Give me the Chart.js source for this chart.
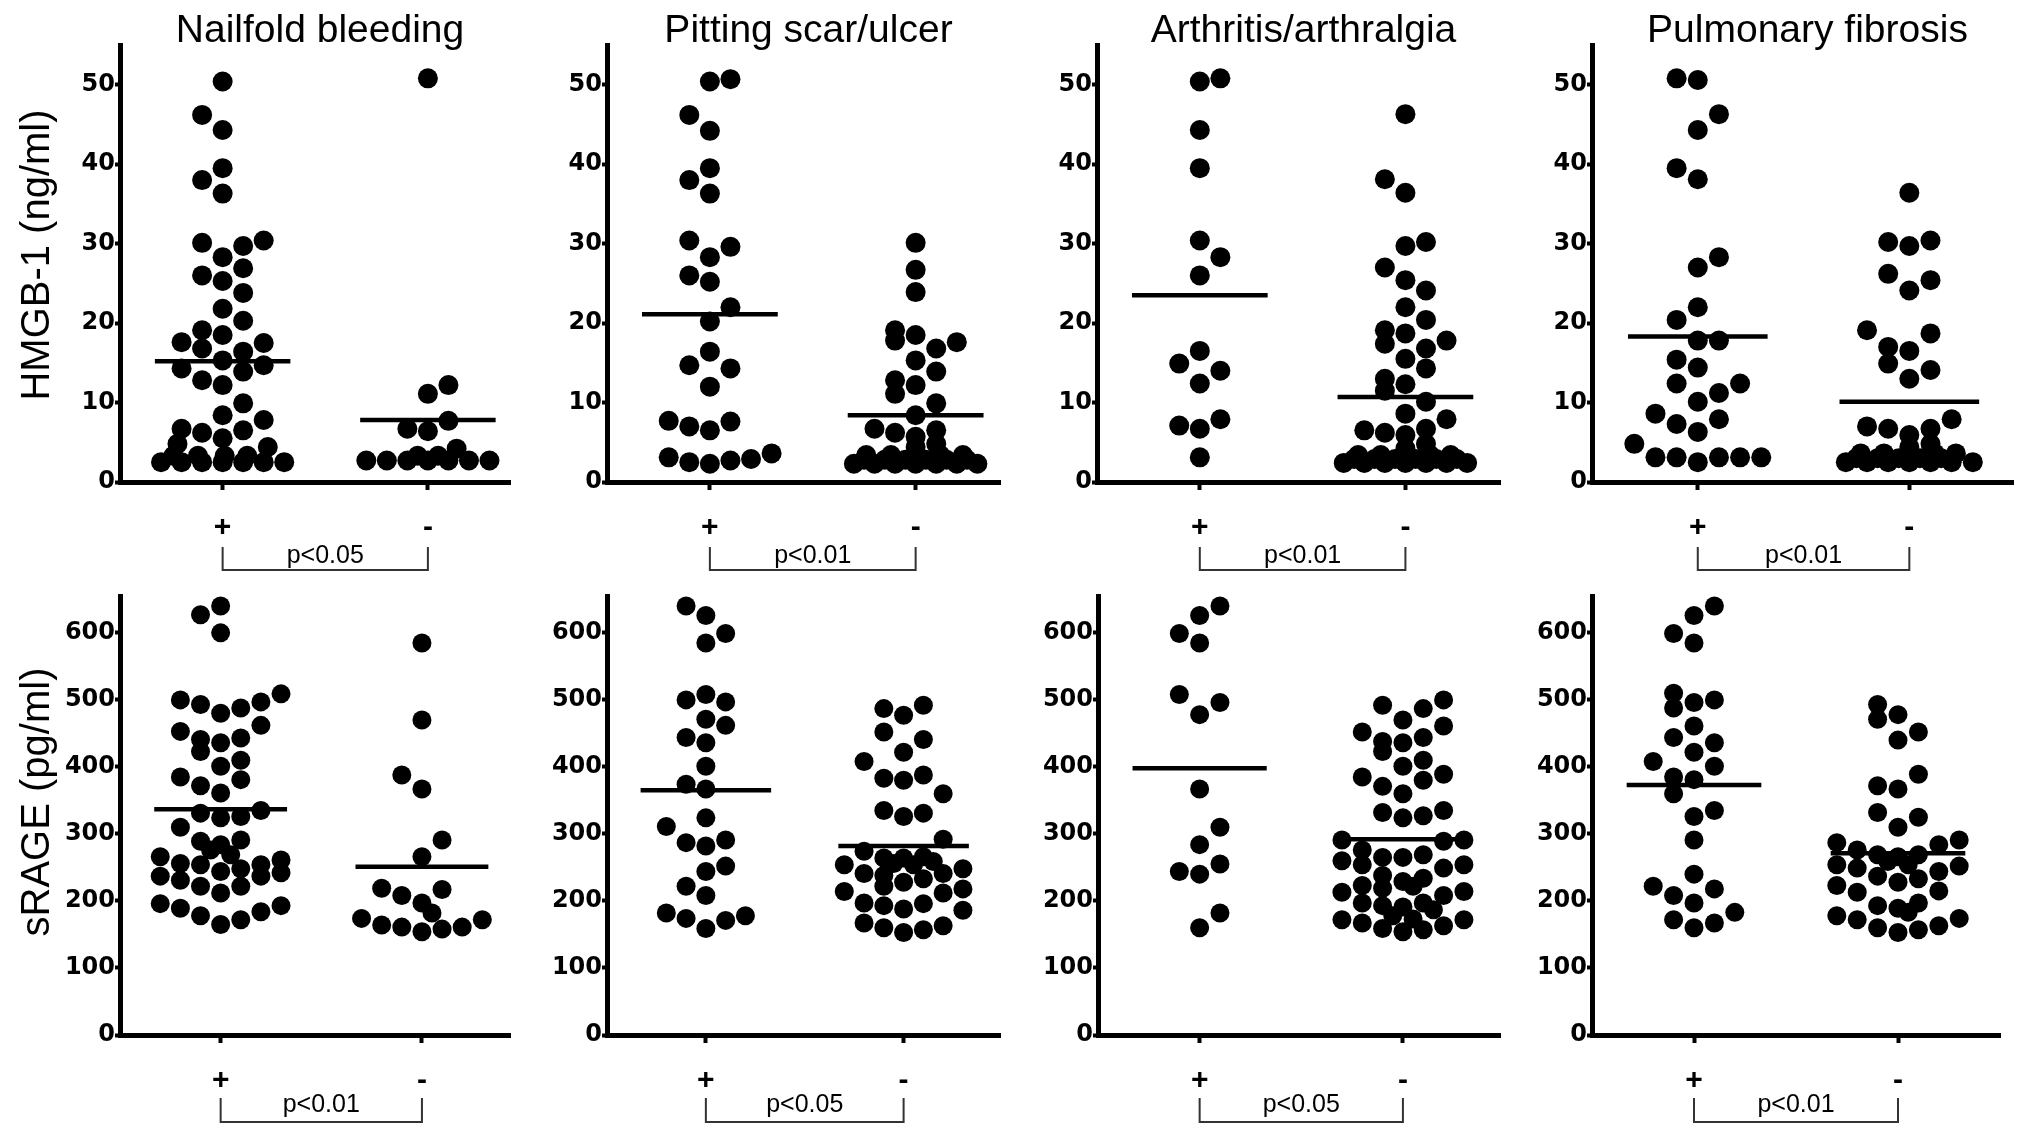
<!DOCTYPE html>
<html>
<head>
<meta charset="utf-8">
<title>HMGB-1 and sRAGE by clinical finding</title>
<script src="https://cdn.jsdelivr.net/npm/chart.js@4.4.1/dist/chart.umd.min.js"></script>
<style>
    body { margin: 0; background: #fff; }
    #wrap { position: relative; width: 2024px; height: 1126px; overflow: hidden; background: #fff; }
    #wrap canvas { position: absolute; }
</style>
</head>
<body>
<div id="wrap"></div>
<script>
// panel titles, group labels, tick labels, p values
const findings = ['Nailfold bleeding', 'Pitting scar/ulcer', 'Arthritis/arthralgia', 'Pulmonary fibrosis']
const groupLabels = ['+', '-']
const hmgbTicks = [0, 10, 20, 30, 40, 50]
const srageTicks = [0, 100, 200, 300, 400, 500, 600]
const hmgbPValues = ['p<0.05', 'p<0.01', 'p<0.01', 'p<0.01']
const sragePValues = ['p<0.01', 'p<0.05', 'p<0.05', 'p<0.01']

// group mean lines [+, -]
const hmgbMeans = [[15.2, 7.8], [21.1, 8.4], [23.5, 10.7], [18.3, 10.1]]
const srageMeans = [[337, 251], [365, 282], [398, 292], [373, 271]]

// HMGB-1 (ng/ml); *Col = column of the dot in the scatter (0 = centre)
const nailfoldHmgbPlus = [50.4, 46.2, 44.3, 39.5, 38.0, 36.3, 30.1, 29.7, 30.4, 28.3, 26.9, 26.0, 25.3, 23.8, 21.8, 20.3, 19.1, 18.5, 17.6, 17.5, 16.8, 16.4, 15.3, 14.3, 14.7, 13.9, 12.8, 12.2, 9.9, 8.4, 7.8, 6.7, 6.2, 6.5, 5.5, 4.8, 4.4, 2.5, 2.5, 2.5, 2.5, 2.5, 2.5, 2.5, 3.3, 3.3, 3.3, 3.3]
const nailfoldHmgbPlusCol = [0, -1, 0, 0, -1, 0, -1, 1, 2, 0, 1, -1, 0, 1, 0, 1, -1, 0, -2, 2, -1, 1, 0, -2, 2, 1, -1, 0, 1, 0, 2, -2, -1, 1, 0, -2.2, 2.2, -3, -2, -1, 0, 1, 2, 3, -2.4, -1.2, 0.1, 1.2]
const nailfoldHmgbMinus = [50.8, 12.2, 11.1, 7.7, 6.7, 6.4, 4.2, 2.7, 2.7, 2.7, 2.7, 2.7, 2.7, 2.7, 3.3, 3.3]
const nailfoldHmgbMinusCol = [0, 1, 0, 1, -1, 0, 1.4, -3, -2, -1, 0, 1, 2, 3, -0.5, 0.5]

const pittingHmgbPlus = [50.4, 50.7, 46.2, 44.2, 39.5, 38.0, 36.3, 30.4, 29.6, 28.3, 26.0, 25.2, 22.0, 20.2, 16.4, 14.7, 14.3, 12.0, 7.7, 7.0, 6.5, 7.6, 3.1, 2.5, 2.3, 2.7, 2.9, 3.6]
const pittingHmgbPlusCol = [0, 1, -1, 0, 0, -1, 0, -1, 1, 0, -1, 0, 1, 0, 0, -1, 1, 0, -2, -1, 0, 1, -2, -1, 0, 1, 2, 3]
const pittingHmgbMinus = [30.1, 26.7, 23.9, 19.1, 17.8, 18.5, 17.6, 16.8, 15.3, 13.9, 12.8, 11.1, 12.2, 9.9, 8.4, 6.7, 6.2, 6.5, 5.7, 4.8, 4.4, 2.3, 2.3, 2.3, 2.3, 2.3, 2.3, 2.3, 3.4, 3.4, 3.4, 3.4, 3.4, 2.8, 2.8, 2.8, 2.8, 2.8, 2.8]
const pittingHmgbMinusCol = [0, 0, 0, -1, -1, 0, 2, 1, 0, 1, -1, -1, 0, 1, 0, -2, -1, 1, 0, 1, 0, -3, -2, -1, 0, 1, 2, 3, -2.4, -1.2, 0, 1.2, 2.3, -2.5, -1.5, -0.5, 0.5, 1.5, 2.5]

const arthritisHmgbPlus = [50.4, 50.8, 44.3, 39.5, 30.4, 28.3, 26.0, 16.5, 14.9, 14.0, 12.4, 7.1, 6.7, 7.9, 3.1]
const arthritisHmgbPlusCol = [0, 1, 0, 0, 0, 1, 0, 0, -1, 1, 0, -1, 0, 1, 0]
const arthritisHmgbMinus = [46.3, 38.1, 36.4, 29.7, 30.2, 27.0, 25.4, 24.1, 22.0, 20.4, 19.1, 17.4, 18.7, 17.8, 16.8, 15.5, 14.3, 13.0, 12.3, 11.5, 10.1, 8.6, 7.9, 6.5, 6.2, 6.7, 5.9, 4.8, 4.2, 2.4, 2.4, 2.4, 2.4, 2.4, 2.4, 2.4, 3.4, 3.4, 3.4, 3.4, 3.4, 2.9, 2.9, 2.9, 2.9, 2.9, 2.9]
const arthritisHmgbMinusCol = [0, -1, 0, 0, 1, -1, 0, 1, 0, 1, -1, -1, 0, 2, 1, 0, 1, -1, 0, -1, 1, 0, 2, -2, -1, 1, 0, 1, 0, -3, -2, -1, 0, 1, 2, 3, -2.3, -1.2, 0, 1.2, 2.2, -2.5, -1.5, -0.5, 0.5, 1.5, 2.5]

const fibrosisHmgbPlus = [50.8, 50.6, 46.3, 44.3, 39.5, 38.1, 28.3, 27.0, 22.0, 20.4, 17.8, 17.8, 15.4, 14.4, 12.4, 12.4, 11.2, 10.1, 8.6, 7.9, 7.3, 6.3, 4.8, 3.1, 3.1, 3.1, 3.1, 3.1, 2.5]
const fibrosisHmgbPlusCol = [-1, 0, 1, 0, -1, 0, 1, 0, 0, -1, 0, 1, -1, 0, -1, 2, 1, 0, -2, 1, -1, 0, -3, -2, -1, 1, 2, 3, 0]
const fibrosisHmgbMinus = [36.4, 30.2, 29.7, 30.4, 26.2, 25.4, 24.1, 19.1, 18.7, 17.0, 16.5, 14.9, 14.1, 13.0, 7.0, 6.7, 6.7, 7.9, 5.9, 4.8, 4.4, 2.5, 2.5, 2.5, 2.5, 2.5, 2.5, 2.5, 3.6, 3.6, 3.6, 3.6, 3.0, 3.0, 3.0, 3.0, 3.0]
const fibrosisHmgbMinusCol = [0, -1, 0, 1, -1, 1, 0, -2, 1, -1, 0, -1, 1, 0, -2, -1, 1, 2, 0, 1, 0, -3, -2, -1, 0, 1, 2, 3, -2.3, -1.2, 1.2, 2.2, -2.5, -1.5, -0.5, 0.5, 1.5]

// sRAGE (pg/ml)
const nailfoldSragePlus = [640, 627, 600, 500, 493, 480, 488, 497, 509, 453, 462, 441, 436, 443, 423, 410, 401, 385, 381, 372, 361, 335, 331, 324, 326, 310, 289, 291, 284, 276, 269, 266, 256, 254, 244, 248, 254, 261, 237, 237, 242, 231, 222, 222, 212, 196, 189, 193, 184, 178, 172, 165]
const nailfoldSragePlusCol = [0, -1, 0, -2, -1, 0, 1, 2, 3, -2, 2, -1, 0, 1, -1, 1, 0, -2, 1, -1, 0, 2, -1, 0, 1, -2, -1, 1, 0, -0.5, 0.5, -3, -2, -1, 0, 1, 2, 3, -3, 2, 3, -2, -1, 1, 0, -3, -2, 3, 2, -1, 1, 0]
const nailfoldSrageMinus = [585, 470, 388, 367, 291, 266, 219, 217, 208, 197, 182, 174, 164, 161, 154, 158, 161, 172]
const nailfoldSrageMinusCol = [0, 0, -1, 0, 1, 0, -2, 1, -1, 0, 0.5, -3, -2, -1, 0, 1, 2, 3]

const pittingSragePlus = [640, 626, 599, 585, 500, 508, 497, 471, 462, 444, 436, 401, 374, 367, 324, 311, 287, 282, 291, 252, 244, 222, 208, 182, 174, 159, 171, 178]
const pittingSragePlusCol = [-1, 0, 1, 0, -1, 0, 1, 0, 1, -1, 0, 0, -1, 0, 0, -2, -1, 0, 1, 1, 0, -1, 0, -2, -1, 0, 1, 2]
const pittingSrageMinus = [487, 477, 492, 452, 441, 422, 408, 383, 380, 388, 360, 335, 326, 331, 292, 274, 264, 264, 266, 256, 254, 259, 254, 241, 238, 228, 233, 241, 248, 222, 214, 212, 218, 197, 193, 188, 196, 186, 167, 160, 153, 157, 163]
const pittingSrageMinusCol = [-1, 0, 1, -1, 1, 0, -2, -1, 0, 1, 2, -1, 0, 1, 2, -2, -1, 0, 1, -0.5, 0.5, 1.5, -3, -2, -1, 0, 1, 2, 3, -1, -3, 2, 3, -2, -1, 0, 1, 3, -2, -1, 0, 1, 2]

const arthritisSragePlus = [640, 626, 599, 585, 508, 496, 478, 367, 310, 284, 255, 244, 240, 182, 160]
const arthritisSragePlusCol = [1, 0, -1, 0, -1, 1, 0, 0, 1, 0, 1, -1, 0, 1, 0]
const arthritisSrageMinus = [500, 492, 487, 470, 461, 452, 438, 436, 444, 423, 410, 401, 385, 389, 380, 371, 360, 332, 324, 327, 335, 291, 289, 291, 276, 265, 265, 269, 260, 254, 249, 254, 238, 229, 234, 222, 223, 219, 213, 208, 214, 197, 193, 191, 197, 187, 178, 173, 172, 167, 159, 154, 157, 163, 172]
const arthritisSrageMinusCol = [2, -1, 1, 0, 2, -2, -1, 0, 1, -1, 1, 0, -2, 2, 1, -1, 0, -1, 0, 1, 2, -3, 2, 3, -2, -1, 0, 1, -3, -2, 2, 3, -1, 0, 1, 0.5, -2, -1, -3, 2, 3, -2, -1, 0, 1, 1.5, -0.5, 0.5, -3, -2, -1, 0, 1, 2, 3]

const fibrosisSragePlus = [640, 626, 599, 585, 510, 488, 496, 500, 461, 444, 436, 422, 408, 401, 385, 381, 360, 335, 326, 291, 240, 222, 218, 208, 197, 183, 172, 160, 167]
const fibrosisSragePlusCol = [1, 0, -1, 0, -1, -1, 0, 1, 0, -1, 1, 0, -2, 1, -1, 0, -1, 1, 0, 0, 0, -2, 1, -1, 0, 2, -1, 0, 1]
const fibrosisSrageMinus = [493, 478, 471, 452, 440, 389, 372, 367, 332, 325, 310, 287, 291, 284, 276, 269, 266, 269, 259, 254, 254, 249, 244, 252, 237, 228, 233, 223, 213, 215, 193, 189, 197, 183, 178, 172, 160, 153, 157, 163, 174]
const fibrosisSrageMinusCol = [-1, 0, -1, 1, 0, 1, -1, 0, -1, 1, 0, -3, 3, 2, -2, -1, 0, 1, -0.5, 0.5, -3, -2, 2, 3, -1, 0, 1, -3, -2, 2, -1, 0, 1, 0.5, -3, -2, -1, 0, 1, 2, 3]

const hmgbGroups = [
    [nailfoldHmgbPlus, nailfoldHmgbPlusCol, nailfoldHmgbMinus, nailfoldHmgbMinusCol],
    [pittingHmgbPlus, pittingHmgbPlusCol, pittingHmgbMinus, pittingHmgbMinusCol],
    [arthritisHmgbPlus, arthritisHmgbPlusCol, arthritisHmgbMinus, arthritisHmgbMinusCol],
    [fibrosisHmgbPlus, fibrosisHmgbPlusCol, fibrosisHmgbMinus, fibrosisHmgbMinusCol],
]
const srageGroups = [
    [nailfoldSragePlus, nailfoldSragePlusCol, nailfoldSrageMinus, nailfoldSrageMinusCol],
    [pittingSragePlus, pittingSragePlusCol, pittingSrageMinus, pittingSrageMinusCol],
    [arthritisSragePlus, arthritisSragePlusCol, arthritisSrageMinus, arthritisSrageMinusCol],
    [fibrosisSragePlus, fibrosisSragePlusCol, fibrosisSrageMinus, fibrosisSrageMinusCol],
]

// layout
const colStep = 0.1
const meanHalf = 0.33
const blocks = [[0, 520], [520, 1010], [1010, 1510], [1510, 2024]]
const tickFont = { family: 'DejaVu Sans', weight: 'bold', size: 24 }
const groupFont = { family: 'Liberation Sans', weight: 'bold', size: 30 }

const rows = [
    {
        groups: hmgbGroups, means: hmgbMeans, ticks: hmgbTicks, pValues: hmgbPValues,
        yTitle: 'HMGB-1 (ng/ml)', yTitleY: 255, showTitle: true,
        canvasTop: 0, canvasH: 580, chartTop: 45, chartBottom: 482, yMax: 55, radius: 10,
        axisLeft: [120, 607, 1097, 1592], chartRight: [519, 1007, 1510, 2013], xMax: [2.4, 2.41, 2.46, 2.49],
        bracket: [65, 88, 81],
    },
    {
        groups: srageGroups, means: srageMeans, ticks: srageTicks, pValues: sragePValues,
        yTitle: 'sRAGE (pg/ml)', yTitleY: 222, showTitle: false,
        canvasTop: 580, canvasH: 546, chartTop: 596, chartBottom: 1035, yMax: 655, radius: 9.5,
        axisLeft: [120, 607, 1098, 1592], chartRight: [516, 1013, 1503, 2000], xMax: [2.44, 2.49, 2.48, 2.5],
        bracket: [63, 87, 77],
    },
]

// titles, y titles and p value brackets
const decor = {
    id: 'decor',
    afterDraw(chart, args, o) {
        const { ctx, chartArea: a } = chart
        const x = chart.scales.x
        ctx.save()
        ctx.fillStyle = '#000'
        if (o.title) {
            ctx.font = '39px "Liberation Sans", Arial, sans-serif'
            ctx.textAlign = 'center'
            ctx.textBaseline = 'alphabetic'
            ctx.fillText(o.title, (a.left + a.right) / 2 + 5, 42)
        }
        if (o.yTitle) {
            ctx.save()
            ctx.font = '40px "Liberation Sans", Arial, sans-serif'
            ctx.translate(38, o.yTitleY)
            ctx.rotate(-Math.PI / 2)
            ctx.textAlign = 'center'
            ctx.textBaseline = 'middle'
            ctx.fillText(o.yTitle, 0, 0)
            ctx.restore()
        }
        const x1 = x.getPixelForValue(1)
        const x2 = x.getPixelForValue(2)
        const [top, bottom, base] = o.bracket
        ctx.strokeStyle = '#333'
        ctx.lineWidth = 2
        ctx.beginPath()
        ctx.moveTo(x1, a.bottom + top)
        ctx.lineTo(x1, a.bottom + bottom)
        ctx.lineTo(x2, a.bottom + bottom)
        ctx.lineTo(x2, a.bottom + top)
        ctx.stroke()
        ctx.font = '25px "Liberation Sans", Arial, sans-serif'
        ctx.textAlign = 'center'
        ctx.textBaseline = 'alphabetic'
        ctx.fillText(o.pText, (x1 + x2) / 2, a.bottom + base)
        ctx.restore()
    }
}

const wrap = document.getElementById('wrap')

function dots(vals, cols, g) {
    return vals.map((v, k) => ({ x: g + cols[k] * colStep, y: v }))
}

function meanLine(m, g) {
    return [{ x: g - meanHalf, y: m }, { x: g + meanHalf, y: m }]
}

function addPanel(row, i) {
    const left = blocks[i][0]
    const width = blocks[i][1] - blocks[i][0]
    const canvas = document.createElement('canvas')
    canvas.width = width
    canvas.height = row.canvasH
    canvas.style.left = left + 'px'
    canvas.style.top = row.canvasTop + 'px'
    canvas.style.width = width + 'px'
    canvas.style.height = row.canvasH + 'px'
    wrap.appendChild(canvas)

    const [plusVals, plusCols, minusVals, minusCols] = row.groups[i]
    const dotStyle = {
        pointRadius: row.radius,
        pointBackgroundColor: '#000',
        pointBorderWidth: 0,
        pointHoverRadius: row.radius,
        clip: false,
    }
    const lineStyle = {
        type: 'line',
        showLine: true,
        borderColor: '#000',
        borderWidth: 4.5,
        pointRadius: 0,
        clip: false,
    }

    new Chart(canvas, {
        type: 'scatter',
        data: {
            datasets: [
                { data: dots(plusVals, plusCols, 1), ...dotStyle },
                { data: dots(minusVals, minusCols, 2), ...dotStyle },
                { data: meanLine(row.means[i][0], 1), ...lineStyle },
                { data: meanLine(row.means[i][1], 2), ...lineStyle },
            ],
        },
        options: {
            responsive: false,
            animation: false,
            devicePixelRatio: 1,
            layout: {
                padding: { top: row.chartTop - row.canvasTop, right: blocks[i][1] - row.chartRight[i], left: 0, bottom: 0 },
            },
            plugins: {
                legend: { display: false },
                tooltip: { enabled: false },
                decor: {
                    title: row.showTitle ? findings[i] : '',
                    yTitle: i === 0 ? row.yTitle : '',
                    yTitleY: row.yTitleY,
                    pText: row.pValues[i],
                    bracket: row.bracket,
                },
            },
            scales: {
                x: {
                    type: 'linear',
                    min: 0.5,
                    max: row.xMax[i],
                    afterBuildTicks: s => { s.ticks = [{ value: 1 }, { value: 2 }] },
                    afterFit: s => { s.height = row.canvasH - (row.chartBottom - row.canvasTop) },
                    border: { display: true, color: '#000', width: 5 },
                    grid: { drawOnChartArea: false, color: '#000', tickLength: 8, tickWidth: 4 },
                    ticks: {
                        color: '#000',
                        padding: 20,
                        autoSkip: false,
                        maxRotation: 0,
                        font: groupFont,
                        callback: v => groupLabels[v - 1],
                    },
                },
                y: {
                    min: 0,
                    max: row.yMax,
                    afterBuildTicks: s => { s.ticks = row.ticks.map(v => ({ value: v })) },
                    afterFit: s => { s.width = row.axisLeft[i] - left },
                    border: { display: true, color: '#000', width: 5 },
                    grid: { drawOnChartArea: false, color: '#000', tickLength: 5, tickWidth: 4 },
                    ticks: { color: '#000', padding: 0, font: tickFont },
                },
            },
        },
        plugins: [decor],
    })
}

rows.forEach(row => {
    for (let i = 0; i < 4; i++) {
        addPanel(row, i)
    }
})
</script>
</body>
</html>
